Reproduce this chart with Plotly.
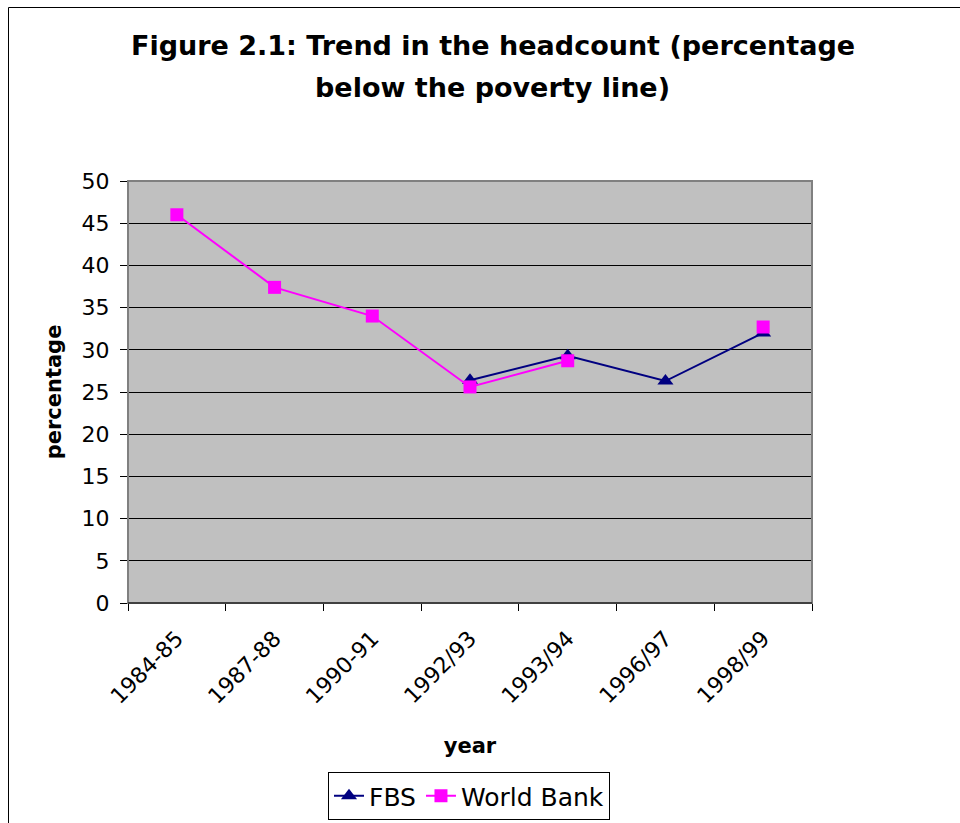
import plotly.graph_objects as go

years = ["1984-85", "1987-88", "1990-91", "1992/93", "1993/94", "1996/97", "1998/99"]
fbs = [None, None, None, 26.4, 29.3, 26.3, 32.0]
world_bank = [46.0, 37.4, 34.0, 25.6, 28.7, None, 32.7]
y_ticks = [0, 5, 10, 15, 20, 25, 30, 35, 40, 45, 50]

FONT = "DejaVu Sans"
W, H = 960, 823
L, R, T, B = 128, 148, 181, 220
PW, PH = W - L - R, H - T - B

def px_x(x):
    return (x - L) / PW

def px_y(y):
    return (H - B - y) / PH

fig = go.Figure()
fig.add_trace(go.Scatter(
    x=years, y=fbs, name="FBS", mode="lines+markers",
    line=dict(color="#000080", width=2),
    marker=dict(symbol="triangle-up", size=14, color="#000080"),
    connectgaps=False,
))
fig.add_trace(go.Scatter(
    x=years, y=world_bank, name="World Bank", mode="lines+markers",
    line=dict(color="#FF00FF", width=2),
    marker=dict(symbol="square", size=13, color="#FF00FF"),
    connectgaps=False,
))

fig.update_layout(
    width=W, height=H,
    margin=dict(l=L, r=R, t=T, b=B, autoexpand=False),
    paper_bgcolor="white",
    plot_bgcolor="#C0C0C0",
    font=dict(family=FONT, color="black", size=22),
    showlegend=True,
    legend=dict(
        orientation="h", x=px_x(469), xanchor="center",
        y=px_y(772), yanchor="top",
        bordercolor="black", borderwidth=1,
        font=dict(size=25, family=FONT),
        tracegroupgap=0,
    ),
    xaxis=dict(
        type="category", categoryorder="array", categoryarray=years,
        range=[-0.5, 6.5],
        tickson="boundaries", ticks="outside", ticklen=7, tickcolor="black",
        tickangle=-45, tickfont=dict(size=22), ticklabelstandoff=13,
        showline=True, linecolor="black", linewidth=1,
        showgrid=False, zeroline=False,
        title=dict(text="<b>year</b>", font=dict(size=21), standoff=30),
    ),
    yaxis=dict(
        range=[0, 50], tickvals=y_ticks,
        ticks="outside", ticklen=7, tickcolor="black",
        tickfont=dict(size=22), ticklabelstandoff=6,
        showline=True, linecolor="#404040", linewidth=1,
        showgrid=True, gridcolor="black", gridwidth=1,
        zeroline=False,
        title=dict(text="<b>percentage</b>", font=dict(size=21), standoff=14),
    ),
    annotations=[
        dict(text="<b>Figure 2.1: Trend in the headcount (percentage</b>",
             xref="paper", yref="paper", x=px_x(493), y=px_y(45),
             xanchor="center", yanchor="middle", showarrow=False,
             font=dict(size=27, family=FONT)),
        dict(text="<b>below the poverty line)</b>",
             xref="paper", yref="paper", x=px_x(493), y=px_y(87),
             xanchor="center", yanchor="middle", showarrow=False,
             font=dict(size=27, family=FONT)),
    ],
    shapes=[
        dict(type="rect", xref="paper", yref="paper",
             x0=0, x1=1, y0=0, y1=1,
             line=dict(color="#808080", width=2), layer="above"),
        dict(type="line", xref="paper", yref="paper",
             x0=0, x1=1, y0=0, y1=0,
             line=dict(color="black", width=1), layer="above"),
        dict(type="rect", xref="paper", yref="paper",
             x0=px_x(8.5), x1=px_x(1000), y0=px_y(860), y1=px_y(7.5),
             line=dict(color="black", width=1), layer="above"),
    ],
)

fig.write_html("out.html")
